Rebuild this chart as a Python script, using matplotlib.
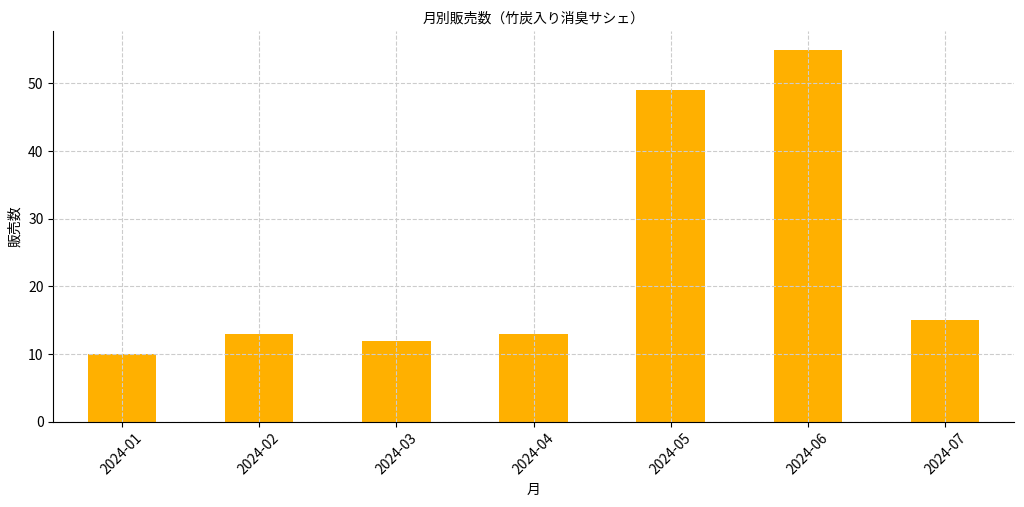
import matplotlib
matplotlib.use("Agg")
import matplotlib.pyplot as plt

plt.rcParams['font.family'] = ['Noto Sans CJK JP', 'DejaVu Sans']

months = ['2024-01', '2024-02', '2024-03', '2024-04', '2024-05', '2024-06', '2024-07']
sales = [10, 13, 12, 13, 49, 55, 15]

fig, ax = plt.subplots(figsize=(10.24, 5.07), dpi=100)
fig.subplots_adjust(left=0.052, right=0.99, top=0.939, bottom=0.168)

x = range(len(months))
ax.bar(x, sales, width=0.5, color='#FFB000', zorder=1)
ax.set_xlim(-0.5, len(months) - 0.5)
ax.set_ylim(0, max(sales) * 1.05)
ax.set_xticks(list(x))
ax.set_xticklabels(months, rotation=45)
ax.grid(True, linestyle='--', color='#cccccc', linewidth=0.8, zorder=2)
ax.set_axisbelow(False)

ax.set_title('月別販売数（竹炭入り消臭サシェ）', fontsize=10)
ax.set_xlabel('月', fontsize=10)
ax.set_ylabel('販売数', fontsize=10)
ax.tick_params(labelsize=10)

ax.spines['top'].set_visible(False)
ax.spines['right'].set_visible(False)

plt.savefig('out.png', dpi=100, facecolor='white')
plt.close()
